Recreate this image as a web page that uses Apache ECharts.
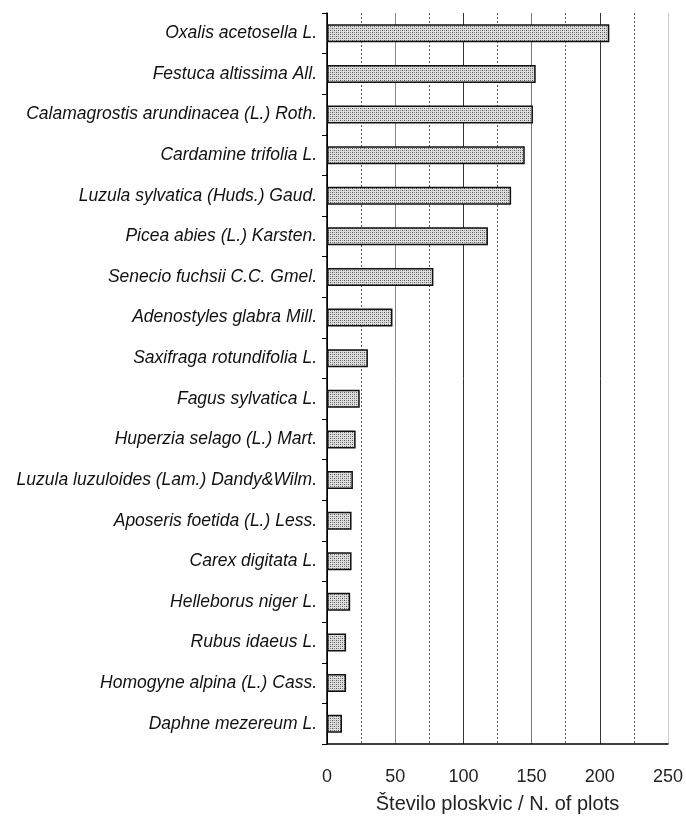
<!DOCTYPE html>
<html>
<head>
<meta charset="utf-8">
<script src="https://cdn.jsdelivr.net/npm/echarts@6/dist/echarts.min.js"></script>
<style>
  html, body { margin: 0; padding: 0; background: #fff; }
  #chart { width: 686px; height: 819px; }
</style>
</head>
<body>
<div id="chart"></div>
<script>
// vrste (od zgoraj navzdol)
var species = [
  'Oxalis acetosella L.',
  'Festuca altissima All.',
  'Calamagrostis arundinacea (L.) Roth.',
  'Cardamine trifolia L.',
  'Luzula sylvatica (Huds.) Gaud.',
  'Picea abies (L.) Karsten.',
  'Senecio fuchsii C.C. Gmel.',
  'Adenostyles glabra Mill.',
  'Saxifraga rotundifolia L.',
  'Fagus sylvatica L.',
  'Huperzia selago (L.) Mart.',
  'Luzula luzuloides (Lam.) Dandy&Wilm.',
  'Aposeris foetida (L.) Less.',
  'Carex digitata L.',
  'Helleborus niger L.',
  'Rubus idaeus L.',
  'Homogyne alpina (L.) Cass.',
  'Daphne mezereum L.'
];
// število ploskvic
var plots = [207, 153, 151, 145, 135, 118, 78, 48, 30, 24, 21, 19, 18, 18, 17, 14, 14, 11];

// pikčast vzorec za stolpce
var pat = document.createElement('canvas');
pat.width = 4; pat.height = 4;
var ctx = pat.getContext('2d');
ctx.fillStyle = '#dedede';
ctx.fillRect(0, 0, 4, 4);
ctx.fillStyle = '#555555';
ctx.fillRect(0, 0, 1, 1);
ctx.fillRect(2, 2, 1, 1);
ctx.fillStyle = '#8c8c8c';
ctx.fillRect(2, 0, 1, 1);
ctx.fillRect(0, 2, 1, 1);

var myChart = echarts.init(document.getElementById('chart'));
var option = {
  animation: false,
  grid: { left: 327, right: 18, top: 13, bottom: 71 },
  xAxis: {
    type: 'value',
    min: 0,
    max: 250,
    interval: 50,
    name: 'Število ploskvic / N. of plots',
    nameLocation: 'middle',
    nameGap: 50,
    nameTextStyle: { fontFamily: 'Liberation Sans', fontSize: 20, color: '#222' },
    axisLine: { show: true, lineStyle: { color: '#000', width: 1.5 } },
    axisTick: { show: false },
    axisLabel: { fontFamily: 'Liberation Sans', fontSize: 18, color: '#222', margin: 24 },
    splitLine: {
      show: true,
      lineStyle: { color: ['#000', '#888', '#333', '#777', '#333', '#ccc'], width: 1 }
    },
    minorTick: { show: false, splitNumber: 2 },
    minorSplitLine: { show: true, lineStyle: { color: '#555', type: [2, 2], width: 1 } }
  },
  yAxis: {
    type: 'category',
    inverse: true,
    data: species,
    axisLine: { show: true, lineStyle: { color: '#000', width: 1.5 } },
    axisTick: { show: true, length: 5, lineStyle: { color: '#000' } },
    axisLabel: {
      fontFamily: 'Liberation Sans',
      fontStyle: 'italic',
      fontSize: 17.5,
      color: '#111',
      margin: 10
    }
  },
  series: [{
    type: 'bar',
    data: plots,
    barWidth: 18,
    itemStyle: {
      color: { image: pat, repeat: 'repeat' },
      borderColor: '#111',
      borderWidth: 1.5
    }
  }]
};
myChart.setOption(option);
</script>
</body>
</html>
